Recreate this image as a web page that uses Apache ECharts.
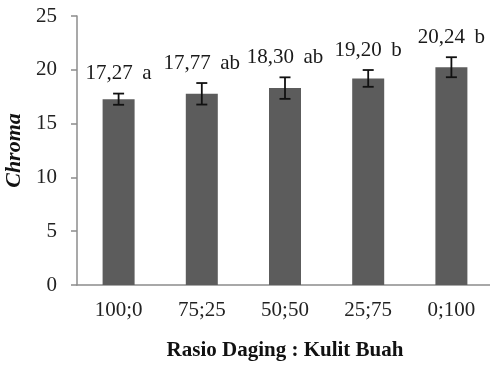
<!DOCTYPE html>
<html>
<head>
<meta charset="utf-8">
<script src="https://cdn.jsdelivr.net/npm/echarts@6/dist/echarts.min.js"></script>
<style>html,body{margin:0;padding:0;background:#fff;}#c{width:490px;height:365px;}</style>
</head>
<body>
<div id="c"></div>
<script>
const categories = ['100;0', '75;25', '50;50', '25;75', '0;100'];
const chromaMean = [17.27, 17.77, 18.30, 19.20, 20.24];
const chromaErr = [0.52, 1.0, 1.0, 0.78, 0.93];
const letters = ['a', 'ab', 'ab', 'b', 'b'];

const FONT = '"Liberation Serif", "Times New Roman", serif';
const chart = echarts.init(document.getElementById('c'), null, {renderer: 'canvas'});
const errData = categories.map((c, i) => [i, chromaMean[i], chromaErr[i]]);

chart.setOption({
  animation: false,
  backgroundColor: '#fff',
  grid: {left: 77, top: 16, right: -3, bottom: 80, containLabel: false, outerBoundsMode: 'none'},
  xAxis: {
    type: 'category',
    data: categories,
    name: 'Rasio Daging : Kulit Buah',
    nameLocation: 'middle',
    nameGap: 55,
    nameTextStyle: {fontFamily: FONT, fontWeight: 'bold', fontSize: 21, color: '#111'},
    axisLine: {lineStyle: {color: '#8c8c8c', width: 1.5}},
    axisTick: {length: 6, lineStyle: {color: '#8c8c8c', width: 1.5}},
    axisLabel: {fontFamily: FONT, fontSize: 21, color: '#222', margin: 15}
  },
  yAxis: {
    type: 'value',
    min: 0, max: 25, interval: 5,
    name: 'Chroma',
    nameLocation: 'middle',
    nameGap: 51,
    nameTextStyle: {fontFamily: FONT, fontWeight: 'bold', fontStyle: 'italic', fontSize: 22, color: '#111'},
    axisLine: {show: true, lineStyle: {color: '#8c8c8c', width: 1.5}},
    axisTick: {show: true, length: 6, lineStyle: {color: '#8c8c8c', width: 1.5}},
    splitLine: {show: false},
    axisLabel: {fontFamily: FONT, fontSize: 21, color: '#222', margin: 20}
  },
  series: [
    {
      type: 'bar',
      data: chromaMean,
      barWidth: 32,
      itemStyle: {color: '#5c5c5c'},
      z: 2
    },
    {
      type: 'custom',
      data: errData,
      z: 5,
      renderItem: function (params, api) {
        const i = api.value(0), v = api.value(1), e = api.value(2);
        const top = api.coord([i, v + e]);
        const bot = api.coord([i, v - e]);
        const hw = 5.5;
        const ls = {stroke: '#111', lineWidth: 1.8};
        const label = chromaMean[params.dataIndex].toFixed(2).replace('.', ',') + ' \u2009' + letters[params.dataIndex];
        return {
          type: 'group',
          children: [
            {type: 'line', shape: {x1: top[0], y1: top[1], x2: bot[0], y2: bot[1]}, style: ls},
            {type: 'line', shape: {x1: top[0] - hw, y1: top[1], x2: top[0] + hw, y2: top[1]}, style: ls},
            {type: 'line', shape: {x1: bot[0] - hw, y1: bot[1], x2: bot[0] + hw, y2: bot[1]}, style: ls},
            {type: 'text', style: {text: label, x: top[0], y: top[1] - 20, align: 'center', verticalAlign: 'middle',
              fontFamily: FONT, fontSize: 21, fill: '#1a1a1a'}}
          ]
        };
      }
    }
  ]
});
</script>
</body>
</html>
